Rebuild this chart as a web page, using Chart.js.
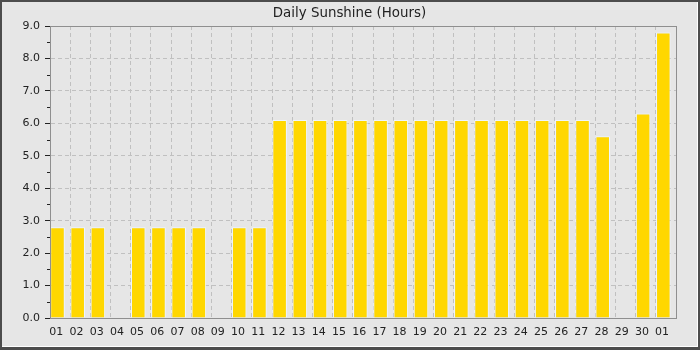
<!DOCTYPE html>
<html>
<head>
<meta charset="utf-8">
<script src="https://cdn.jsdelivr.net/npm/chart.js@4/dist/chart.umd.min.js"></script>
<style>
    html, body { margin: 0; padding: 0; background: #4d4d4d; }
    #frame {
        position: relative;
        width: 700px; height: 350px;
        background: #4d4d4d;
    }
    #inner {
        position: absolute; left: 2px; top: 2px;
        width: 695px; height: 344px;
        background: #e6e6e6;
        border-right: 1px solid #ffffff;
        border-bottom: 1px solid #ffffff;
    }
    canvas { display: block; }
</style>
</head>
<body>
<div id="frame"><div id="inner"><canvas id="chart" width="695" height="344"></canvas></div></div>
<script>
// 日期標籤
const days = [
    '01', '02', '03', '04', '05', '06', '07', '08', '09', '10',
    '11', '12', '13', '14', '15', '16', '17', '18', '19', '20',
    '21', '22', '23', '24', '25', '26', '27', '28', '29', '30', '01',
];

// 每日日照時數
const sunshineHours = [
    2.8, 2.8, 2.8, 0, 2.8, 2.8, 2.8, 2.8, 0, 2.8,
    2.8, 6.1, 6.1, 6.1, 6.1, 6.1, 6.1, 6.1, 6.1, 6.1,
    6.1, 6.1, 6.1, 6.1, 6.1, 6.1, 6.1, 5.6, 0, 6.3, 8.8,
];

const yMin = 0;
const yMax = 9;
const minorStep = 0.5;

// 長條在格內偏左（原圖的樣式）
const barShiftPlugin = {
    id: 'barShift',
    beforeDatasetsDraw(chart) {
        chart.ctx.save();
        chart.ctx.translate(-2.6, 0);
    },
    afterDatasetsDraw(chart) {
        chart.ctx.restore();
    },
};

// 外框與次刻度
const framePlugin = {
    id: 'frame',
    afterDraw(chart) {
        const { ctx, chartArea: a, scales } = chart;
        ctx.save();
        ctx.strokeStyle = '#8f8f8f';
        ctx.lineWidth = 1;
        ctx.strokeRect(Math.round(a.left) + 0.5, Math.round(a.top) + 0.5,
            Math.round(a.right - a.left), Math.round(a.bottom - a.top));

        // 次刻度（0.5）
        ctx.strokeStyle = '#222';
        ctx.beginPath();
        for (let v = yMin + minorStep; v < yMax; v += 1) {
            const y = Math.round(scales.y.getPixelForValue(v)) + 0.5;
            ctx.moveTo(a.left - 3, y);
            ctx.lineTo(a.left, y);
        }
        ctx.stroke();
        ctx.restore();
    },
};

new Chart(document.getElementById('chart').getContext('2d'), {
    type: 'bar',
    data: {
        labels: days,
        datasets: [{
            data: sunshineHours,
            backgroundColor: '#ffd700',
            borderColor: '#eef6ff',
            borderWidth: 1,
            barPercentage: 0.72,
            categoryPercentage: 1,
        }],
    },
    options: {
        responsive: false,
        animation: false,
        layout: { padding: 0 },
        plugins: {
            legend: { display: false },
            tooltip: { enabled: false },
            title: {
                display: true,
                text: 'Daily Sunshine (Hours)',
                color: '#222',
                font: { family: 'DejaVu Sans', size: 13.4, weight: 'normal', lineHeight: 1.2 },
                padding: { top: 3, bottom: 4.92 },
            },
        },
        scales: {
            x: {
                grid: {
                    offset: true,
                    color: '#c0c0c0',
                    drawTicks: false,
                },
                border: { display: true, color: '#8f8f8f', dash: [4, 3] },
                ticks: {
                    color: '#222',
                    font: { family: 'DejaVu Sans', size: 11 },
                    padding: 8,
                    labelOffset: -3.8,
                    autoSkip: false,
                    maxRotation: 0,
                },
                afterFit(scale) { scale.height = 28; },
            },
            y: {
                min: yMin,
                max: yMax,
                grid: {
                    color: '#c0c0c0',
                    tickColor: '#222',
                    tickLength: 5,
                },
                border: { display: true, color: '#8f8f8f', dash: [4, 3] },
                ticks: {
                    stepSize: 1,
                    color: '#222',
                    font: { family: 'DejaVu Sans', size: 11 },
                    padding: 5,
                    callback: v => Number(v).toFixed(1),
                },
                afterFit(scale) { scale.width = 48; },
            },
            // 右側留白
            yRight: {
                position: 'right',
                min: yMin,
                max: yMax,
                grid: { display: false, drawTicks: false },
                border: { display: false },
                ticks: { display: false },
                afterFit(scale) { scale.width = 21; },
            },
        },
    },
    plugins: [barShiftPlugin, framePlugin],
});
</script>
</body>
</html>
